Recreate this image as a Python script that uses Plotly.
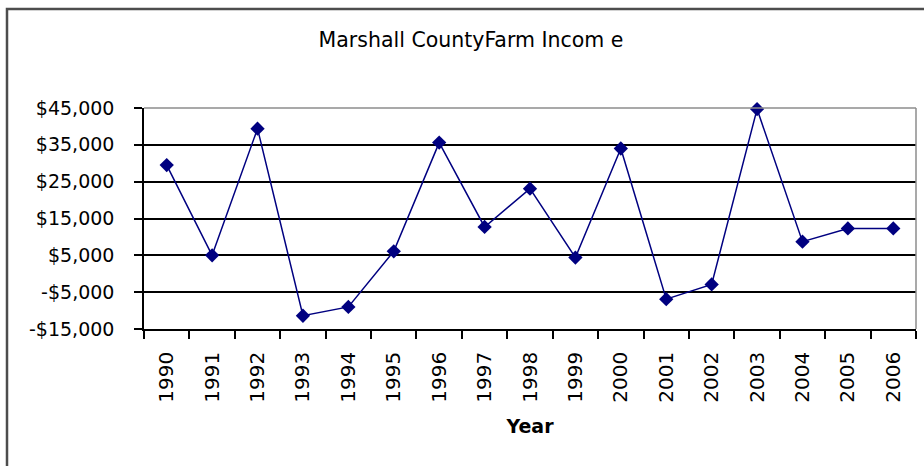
import plotly.graph_objects as go

years = [str(y) for y in range(1990, 2007)]
income = [29500, 5000, 39400, -11400, -9000, 6100, 35600, 12700, 23100,
          4400, 34000, -6900, -2900, 44700, 8700, 12300, 12300]
y_tickvals = [-15000, -5000, 5000, 15000, 25000, 35000, 45000]
y_ticktext = ["-$15,000", "-$5,000", "$5,000", "$15,000", "$25,000", "$35,000", "$45,000"]
title_text = "Marshall CountyFarm Incom e"
x_title = "Year"

W, H = 924, 466
L, R, T, B = 144, 8, 108, 137
pw = W - L - R
ph = H - T - B

FONT = "DejaVu Sans"
NAVY = "#000080"

fig = go.Figure()
fig.add_trace(go.Scatter(
    x=years, y=income, mode="lines+markers",
    line=dict(color=NAVY, width=1.5),
    marker=dict(symbol="diamond", size=11, color=NAVY),
    showlegend=False, cliponaxis=False,
))

shapes = [
    # outer chart border (only top/left visible)
    dict(type="rect", xref="paper", yref="paper",
         x0=(7 - L) / pw, x1=(W + 20 - L) / pw,
         y0=-(H + 20 - T - ph) / ph, y1=1 + (T - 9) / ph,
         line=dict(color="#4d4d4d", width=2.5), layer="below"),
    # plot area top & right border (gray)
    dict(type="line", xref="paper", yref="paper", x0=0, x1=1, y0=1, y1=1,
         line=dict(color="#8c8c8c", width=1.5), layer="above"),
    dict(type="line", xref="paper", yref="paper", x0=1, x1=1, y0=0, y1=1,
         line=dict(color="#8c8c8c", width=1.5), layer="above"),
]

fig.update_layout(
    width=W, height=H,
    margin=dict(l=L, r=R, t=T, b=B),
    paper_bgcolor="white", plot_bgcolor="white",
    font=dict(family=FONT, color="black", size=20),
    title=dict(text=title_text, x=471 / W, xref="container", xanchor="center",
               y=1 - 40 / H, yref="container", yanchor="middle",
               font=dict(family=FONT, size=20.5, color="black")),
    xaxis=dict(
        type="category", tickangle=-90,
        showline=True, linecolor="black", linewidth=1.5,
        ticks="outside", ticklen=8, tickcolor="black", tickwidth=1.5,
        tickson="boundaries", showgrid=False,
        tickfont=dict(family=FONT, size=20),
        ticklabelstandoff=13,
        title=dict(text=x_title, font=dict(family=FONT, size=19, weight="bold"), standoff=18),
        range=[-0.5, len(years) - 0.5],
    ),
    yaxis=dict(
        range=[-15000, 45000], tickvals=y_tickvals, ticktext=y_ticktext,
        showline=True, linecolor="black", linewidth=1.5,
        ticks="outside", ticklen=8, tickcolor="black", tickwidth=1.5,
        showgrid=True, gridcolor="black", gridwidth=1.5,
        zeroline=False,
        tickfont=dict(family=FONT, size=19),
        ticklabelstandoff=16,
    ),
    shapes=shapes,
)

fig.write_html("out.html", config={"displayModeBar": False},
               post_script="document.body.style.margin='0';document.body.style.padding='0';")
